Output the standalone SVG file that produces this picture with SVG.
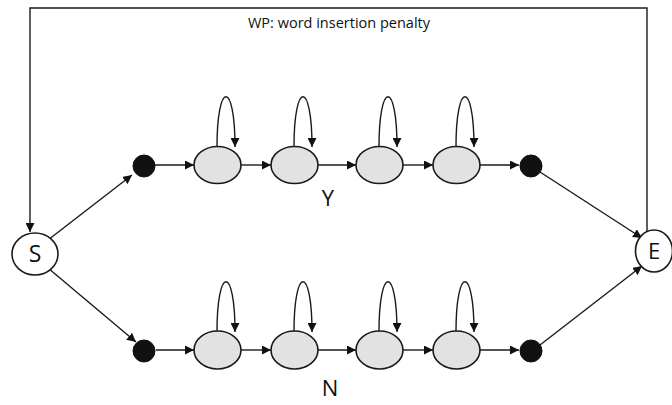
<svg xmlns="http://www.w3.org/2000/svg" width="672" height="405" viewBox="0 0 672 405">
<style>
.ln{fill:none;stroke:#1a1a1a;stroke-width:1.4}
.st{fill:#e2e2e2;stroke:#1a1a1a;stroke-width:1.6}
.dot{fill:#111;stroke:#111;stroke-width:1}
.term{fill:#fff;stroke:#1a1a1a;stroke-width:1.6}
.t{font-family:"Open Sans","Noto Sans","DejaVu Sans",sans-serif;fill:#111}
</style>
<defs>
<marker id="ah" viewBox="0 0 10 10" refX="10" refY="5" markerWidth="9" markerHeight="9" markerUnits="userSpaceOnUse" orient="auto">
<path d="M0,0 L10,5 L0,10 z" fill="#111"/>
</marker>
</defs>
<rect width="672" height="405" fill="#fff"/>
<text class="t" x="339" y="28" font-size="14.5" text-anchor="middle">WP: word insertion penalty</text>
<g id="connectors">
<path class="ln" d="M647 231 V8 H30 V232" marker-end="url(#ah)"/>
<line class="ln" x1="48" y1="240" x2="132" y2="175" marker-end="url(#ah)"/>
<line class="ln" x1="48" y1="268" x2="136" y2="342" marker-end="url(#ah)"/>
<line class="ln" x1="540" y1="172" x2="642" y2="238" marker-end="url(#ah)"/>
<line class="ln" x1="540" y1="345" x2="642" y2="266" marker-end="url(#ah)"/>
<line class="ln" x1="155" y1="165" x2="194" y2="165" marker-end="url(#ah)"/>
<line class="ln" x1="241" y1="165" x2="271" y2="165" marker-end="url(#ah)"/>
<line class="ln" x1="318" y1="165" x2="356" y2="165" marker-end="url(#ah)"/>
<line class="ln" x1="403" y1="165" x2="433" y2="165" marker-end="url(#ah)"/>
<line class="ln" x1="480" y1="165" x2="519" y2="165" marker-end="url(#ah)"/>
<line class="ln" x1="156" y1="350" x2="194" y2="350" marker-end="url(#ah)"/>
<line class="ln" x1="241" y1="350" x2="271" y2="350" marker-end="url(#ah)"/>
<line class="ln" x1="318" y1="350" x2="356" y2="350" marker-end="url(#ah)"/>
<line class="ln" x1="403" y1="350" x2="433" y2="350" marker-end="url(#ah)"/>
<line class="ln" x1="480" y1="350" x2="519" y2="350" marker-end="url(#ah)"/>
<path class="ln" d="M217 147 C217 80 235 80 235 147" marker-end="url(#ah)"/>
<path class="ln" d="M294 147 C294 80 312 80 312 147" marker-end="url(#ah)"/>
<path class="ln" d="M379 147 C379 80 397 80 397 147" marker-end="url(#ah)"/>
<path class="ln" d="M456 147 C456 80 474 80 474 147" marker-end="url(#ah)"/>
<path class="ln" d="M217 332 C217 265 235 265 235 332" marker-end="url(#ah)"/>
<path class="ln" d="M294 332 C294 265 312 265 312 332" marker-end="url(#ah)"/>
<path class="ln" d="M379 332 C379 265 397 265 397 332" marker-end="url(#ah)"/>
<path class="ln" d="M456 332 C456 265 474 265 474 332" marker-end="url(#ah)"/>
</g>
<g id="S"><ellipse class="term" cx="35" cy="254" rx="23" ry="21"/><text class="t" x="35" y="262" font-size="23" text-anchor="middle">S</text></g>
<g id="E"><ellipse class="term" cx="654" cy="251" rx="18.5" ry="21"/><text class="t" x="654" y="259" font-size="22" text-anchor="middle">E</text></g>
<g id="y_start"><circle class="dot" cx="144" cy="166" r="11"/></g>
<g id="y1"><ellipse class="st" cx="217.5" cy="165" rx="23.5" ry="18.5"/></g>
<g id="y2"><ellipse class="st" cx="294.5" cy="165" rx="23.5" ry="18.5"/></g>
<g id="y3"><ellipse class="st" cx="379.5" cy="165" rx="23.5" ry="18.5"/></g>
<g id="y4"><ellipse class="st" cx="456.5" cy="165" rx="23.5" ry="18.5"/></g>
<g id="y_end"><circle class="dot" cx="531" cy="166" r="11"/></g>
<g id="Ylabel"><text class="t" x="328" y="206" font-size="22" text-anchor="middle">Y</text></g>
<g id="n_start"><circle class="dot" cx="144" cy="351" r="11"/></g>
<g id="n1"><ellipse class="st" cx="217.5" cy="350" rx="23.5" ry="19"/></g>
<g id="n2"><ellipse class="st" cx="294.5" cy="350" rx="23.5" ry="19"/></g>
<g id="n3"><ellipse class="st" cx="379.5" cy="350" rx="23.5" ry="19"/></g>
<g id="n4"><ellipse class="st" cx="456.5" cy="350" rx="23.5" ry="19"/></g>
<g id="n_end"><circle class="dot" cx="531" cy="351" r="11"/></g>
<g id="Nlabel"><text class="t" x="330" y="396" font-size="22" text-anchor="middle">N</text></g>
</svg>
